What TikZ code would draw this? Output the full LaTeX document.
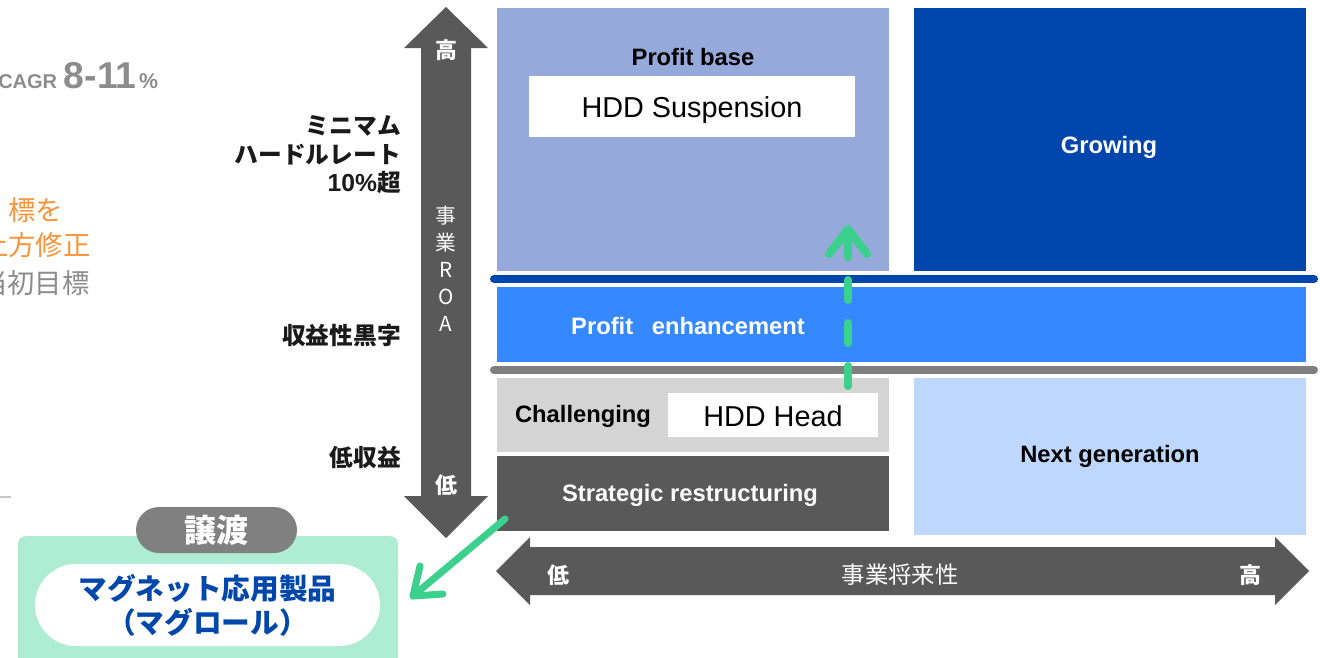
\documentclass[tikz,border=0pt]{standalone}
\usepackage{fontspec}
\setmainfont{Liberation Sans}
\newfontfamily\jp{Noto Sans CJK JP}
\usetikzlibrary{shapes.misc}
\definecolor{pbblue}{HTML}{95A9DA}
\definecolor{grblue}{HTML}{0046AD}
\definecolor{peblue}{HTML}{3688FF}
\definecolor{chgray}{HTML}{D4D4D4}
\definecolor{dkgray}{HTML}{595959}
\definecolor{ngblue}{HTML}{BDD7FE}
\definecolor{lngray}{HTML}{7F7F7F}
\definecolor{grn}{HTML}{3BD08B}
\definecolor{mint}{HTML}{AEEDD3}
\definecolor{pillgray}{HTML}{808080}
\definecolor{txblue}{HTML}{0047AB}
\definecolor{orng}{HTML}{F7943C}
\definecolor{txgray}{HTML}{8C8C8C}
\definecolor{txblack}{HTML}{1A1A1A}
\begin{document}
\begin{tikzpicture}[x=0.75pt,y=-0.75pt,
  box/.style={draw=none,inner sep=0pt,outer sep=0pt},
  en/.style={font=\fontsize{17.8}{21}\selectfont\bfseries,inner sep=0pt},
  hdd/.style={font=\fontsize{21.6}{26}\selectfont,inner sep=0pt},
  jl/.style={font=\jp\bfseries\fontsize{17.8}{21.4}\selectfont,align=right,anchor=east,inner sep=0pt,text=txblack},
  axw/.style={font=\jp\bfseries\fontsize{16.5}{20}\selectfont,text=white,inner sep=0pt},
  sep/.style={line width=6pt,line cap=round},
  gl/.style={draw=grn,line width=6pt,line cap=round,line join=round},
  leftnote/.style={font=\jp\fontsize{20.5}{24}\selectfont,anchor=west,inner sep=0pt}
]
\useasboundingbox (0,0) rectangle (1320,657);

% top-left partial notes
\node[anchor=base west,inner sep=0pt,text=txgray,font=\bfseries] (cagr) at (-2,88)
  {{\fontsize{15}{18}\selectfont CAGR\hspace{5pt}}{\fontsize{28}{32}\selectfont 8-11}{\fontsize{16}{18}\selectfont\hspace{2pt}\%}};
\node[leftnote,text=orng] (n1) at (8,210) {標を};
\node[leftnote,text=orng] (n2) at (-19,245) {上方修正};
\node[leftnote,text=txgray] (n3) at (-20,283) {当初目標};
\coordinate (gl0) at (0,497);
\coordinate (gl1) at (11,497);
\draw[draw=black!22,line width=1.2pt] (gl0) -- (gl1);

% vertical axis arrow
\fill[dkgray] (446,7) -- (488,48) -- (471,48) -- (471,496) -- (488,496) -- (446,538)
  -- (404,496) -- (421,496) -- (421,48) -- (404,48) -- cycle;
\node[axw] (vhi) at (446,50) {高};
\node[axw] (vlo) at (446,485) {低};
\node[font=\jp\fontsize{15.5}{20.25}\selectfont,text=white,align=center,inner sep=0pt] (vroa) at (446,269)
  {事\\業\\R\\O\\A};

% left labels
\node[jl] (hurdle) at (401,155) {ミニマム\\ハードルレート\\{\fontspec{Liberation Sans}\bfseries\fontsize{18.5}{21.4}\selectfont 10\%}超};
\node[jl] (kuro) at (401,336) {収益性黒字};
\node[jl] (teish) at (401,457) {低収益};

% quadrants
\node[box,fill=pbblue,minimum width=294pt,minimum height=197.25pt] (pb) at (693,139.5) {};
\node[en,text=black] (pbt) at (693,57) {Profit base};
\node[box,fill=white,minimum width=244.5pt,minimum height=45.75pt] (hs) at (692,106.5) {};
\node[hdd] (hst) at (692,110.5) {HDD Suspension};

\node[box,fill=grblue,minimum width=294pt,minimum height=197.25pt] (gr) at (1110,139.5) {};
\node[en,text=white] (grt) at (1109,147) {Growing};

\coordinate (bl0) at (494,279);
\coordinate (bl1) at (1314,279);
\draw[sep,draw=grblue] (bl0) -- (bl1);

\node[box,fill=peblue,minimum width=606.75pt,minimum height=56.25pt] (pe) at (901.5,324.5) {};
\node[en,text=white] (pet) at (688,326) {Profit\hspace{14pt}enhancement};

\coordinate (sl0) at (494,370);
\coordinate (sl1) at (1314,370);
\draw[sep,draw=lngray] (sl0) -- (sl1);

\node[box,fill=chgray,minimum width=294pt,minimum height=55.5pt] (ch) at (693,415) {};
\node[en,text=black] (cht) at (583,416) {Challenging};
\node[box,fill=white,minimum width=157.5pt,minimum height=33pt] (hh) at (773,415) {};
\node[hdd] (hht) at (773,416) {HDD Head};

\node[box,fill=dkgray,minimum width=294pt,minimum height=56.25pt] (sr) at (693,493.5) {};
\node[en,text=white] (srt) at (690,495) {Strategic restructuring};

\node[box,fill=ngblue,minimum width=294pt,minimum height=117.75pt] (ng) at (1110,456.5) {};
\node[en,text=black] (ngt) at (1110,456) {Next generation};

% horizontal axis arrow
\fill[dkgray] (496,571) -- (530,537) -- (530,547) -- (1275,547) -- (1275,537) -- (1309,571)
  -- (1275,605) -- (1275,595) -- (530,595) -- (530,605) -- cycle;
\node[axw] (hlo) at (558,575) {低};
\node[font=\jp\fontsize{17.5}{21}\selectfont,text=white,inner sep=0pt] (hlab) at (900,575) {事業将来性};
\node[axw] (hhi) at (1250,575) {高};

% dashed green arrow
\coordinate (gd0) at (848,386);
\coordinate (gd1) at (848,229);
\coordinate (gd2) at (829,254);
\coordinate (gd3) at (867,254);
\draw[gl,dash pattern=on 15pt off 17.25pt] (gd0) -- (gd1);
\draw[gl] (gd2) -- (gd1) -- (gd3);

% transfer panel
\node[box,fill=mint,rounded corners=6pt,minimum width=285pt,minimum height=97.5pt] (panel) at (208,601) {};
\node[rounded rectangle,fill=pillgray,inner sep=0pt,minimum width=120.75pt,minimum height=34.5pt,
  text=white,font=\jp\bfseries\fontsize{24}{28}\selectfont] (joto) at (216.5,530) {譲渡};
\node[rounded rectangle,fill=white,inner sep=0pt,minimum width=258.75pt,minimum height=61.5pt,
  text=txblue,align=center,font=\jp\bfseries\fontsize{21.5}{25.5}\selectfont] (mag) at (207.5,605)
  {マグネット応用製品\\（マグロール）};

% solid green arrow
\coordinate (ga0) at (505,519);
\coordinate (ga1) at (413,596);
\coordinate (ga2) at (420,566);
\coordinate (ga3) at (443,594);
\draw[gl,line width=5.25pt] (ga0) -- (ga1);
\draw[gl,line width=5.25pt] (ga2) -- (ga1) -- (ga3);
\end{tikzpicture}
\end{document}
